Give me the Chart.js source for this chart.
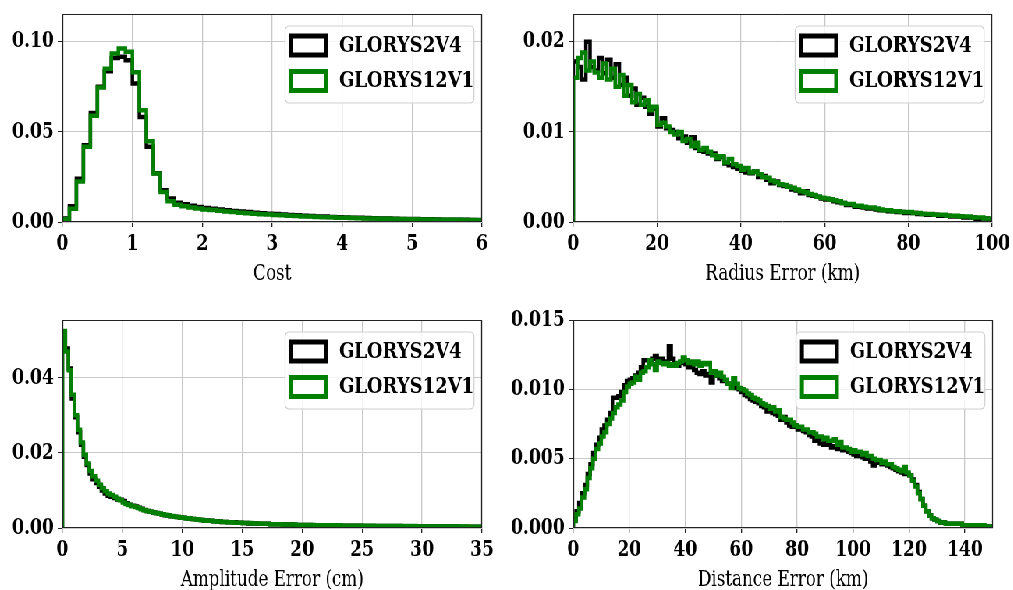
<!DOCTYPE html>
<html>
<head>
<meta charset="utf-8">
<script src="https://cdn.jsdelivr.net/npm/chart.js@4.4.0/dist/chart.umd.min.js"></script>
<style>
  html, body { margin: 0; padding: 0; background: #fff; overflow: hidden; }
  #fig { position: absolute; left: 0; top: 0; height: 590px; transform-origin: 0 0; }
  #fig canvas { position: absolute; }
</style>
</head>
<body>
<div id="fig"></div>
<script>
/* ---- data ---- */
const seriesNames = ['GLORYS2V4', 'GLORYS12V1'];

// Cost: 60 bins of 0.1 starting at 0
const costG2 = [
  0.0020, 0.0087, 0.0240, 0.0426, 0.0605, 0.0750, 0.0837, 0.0910, 0.0917, 0.0898,
  0.0769, 0.0583, 0.0417, 0.0270, 0.0176, 0.0130, 0.0107, 0.0098, 0.0090, 0.0083,
  0.0077, 0.0073, 0.0069, 0.0065, 0.0061, 0.0058, 0.0055, 0.0052, 0.0049, 0.0046,
  0.0044, 0.0041, 0.0039, 0.0037, 0.0035, 0.0033, 0.0031, 0.0030, 0.0028, 0.0027,
  0.0025, 0.0024, 0.0023, 0.0022, 0.0021, 0.0020, 0.0019, 0.0018, 0.0017, 0.0016,
  0.0016, 0.0015, 0.0015, 0.0014, 0.0013, 0.0013, 0.0012, 0.0012, 0.0011, 0.0011
];
const costG12 = [
  0.0015, 0.0074, 0.0225, 0.0417, 0.0590, 0.0746, 0.0850, 0.0935, 0.0963, 0.0944,
  0.0831, 0.0620, 0.0448, 0.0269, 0.0167, 0.0115, 0.0096, 0.0088, 0.0081, 0.0075,
  0.0070, 0.0066, 0.0062, 0.0058, 0.0055, 0.0052, 0.0049, 0.0046, 0.0043, 0.0041,
  0.0039, 0.0037, 0.0035, 0.0033, 0.0031, 0.0030, 0.0028, 0.0027, 0.0026, 0.0024,
  0.0023, 0.0022, 0.0021, 0.0020, 0.0019, 0.0018, 0.0018, 0.0017, 0.0016, 0.0015,
  0.0015, 0.0014, 0.0014, 0.0013, 0.0013, 0.0012, 0.0012, 0.0011, 0.0011, 0.0010
];
const costXTicks = [0, 1, 2, 3, 4, 5, 6];
const costYTicks = [0, 0.05, 0.10];
const costYLabels = ['0.00', '0.05', '0.10'];

// Radius error: 100 bins of 1 km
const radiusG2 = [
  0.0178, 0.0172, 0.0158, 0.0200, 0.0172, 0.0168, 0.0182, 0.0165, 0.0180, 0.0160,
  0.0175, 0.0152, 0.0160, 0.0140, 0.0148, 0.0130, 0.0138, 0.0128, 0.0120, 0.0126,
  0.0106, 0.0115, 0.0104, 0.0102, 0.0100, 0.0093, 0.0095, 0.0088, 0.0094, 0.0082,
  0.0079, 0.0078, 0.0076, 0.0076, 0.0070, 0.0072, 0.0065, 0.0063, 0.0061, 0.0059,
  0.0057, 0.0055, 0.0054, 0.0056, 0.0050, 0.0051, 0.0047, 0.0043, 0.0045, 0.0041,
  0.0040, 0.0039, 0.0036, 0.0035, 0.0032, 0.0034, 0.0030, 0.0029, 0.0028, 0.0026,
  0.0025, 0.0025, 0.0023, 0.0022, 0.0021, 0.0019, 0.0019, 0.0017, 0.0017, 0.0016,
  0.0015, 0.0015, 0.0014, 0.0013, 0.0013, 0.0012, 0.0012, 0.0011, 0.0011, 0.0010,
  0.0010, 0.0010, 0.0009, 0.0009, 0.0008, 0.0008, 0.0008, 0.0007, 0.0007, 0.0007,
  0.0006, 0.0006, 0.0006, 0.0005, 0.0005, 0.0005, 0.0003, 0.0004, 0.0004, 0.0003
];
const radiusG12 = [
  0.0160, 0.0182, 0.0188, 0.0168, 0.0178, 0.0166, 0.0160, 0.0176, 0.0158, 0.0170,
  0.0150, 0.0163, 0.0140, 0.0152, 0.0133, 0.0142, 0.0130, 0.0135, 0.0124, 0.0128,
  0.0108, 0.0110, 0.0106, 0.0100, 0.0097, 0.0100, 0.0090, 0.0092, 0.0084, 0.0088,
  0.0080, 0.0082, 0.0078, 0.0074, 0.0071, 0.0073, 0.0066, 0.0070, 0.0064, 0.0062,
  0.0058, 0.0060, 0.0055, 0.0056, 0.0053, 0.0050, 0.0049, 0.0046, 0.0044, 0.0042,
  0.0041, 0.0039, 0.0038, 0.0036, 0.0034, 0.0033, 0.0031, 0.0030, 0.0028, 0.0027,
  0.0026, 0.0025, 0.0024, 0.0023, 0.0021, 0.0020, 0.0020, 0.0018, 0.0018, 0.0017,
  0.0016, 0.0016, 0.0015, 0.0014, 0.0013, 0.0013, 0.0012, 0.0012, 0.0011, 0.0011,
  0.0011, 0.0010, 0.0010, 0.0009, 0.0009, 0.0009, 0.0008, 0.0008, 0.0008, 0.0007,
  0.0007, 0.0007, 0.0006, 0.0006, 0.0006, 0.0005, 0.0005, 0.0005, 0.0004, 0.0004
];
const radiusXTicks = [0, 20, 40, 60, 80, 100];
const radiusYTicks = [0, 0.01, 0.02];
const radiusYLabels = ['0.00', '0.01', '0.02'];

// Amplitude error: 140 bins of 0.25 cm
const ampG2 = [
  0.0520, 0.0478, 0.0425, 0.0345, 0.0295, 0.0255, 0.0222, 0.0190, 0.0168, 0.0145,
  0.0130, 0.0120, 0.0110, 0.0100, 0.0092, 0.0086, 0.0083, 0.0080, 0.0076, 0.0075,
  0.0072, 0.0066, 0.0062, 0.0059, 0.0057, 0.0054, 0.0051, 0.0048, 0.0045, 0.0043,
  0.0041, 0.0040, 0.0038, 0.0036, 0.0034, 0.0033, 0.0031, 0.0030, 0.0029, 0.0028,
  0.0027, 0.0026, 0.0025, 0.0024, 0.0023, 0.0022, 0.0021, 0.0020, 0.0020, 0.0019,
  0.0018, 0.0018, 0.0017, 0.0016, 0.0016, 0.0015, 0.0015, 0.0015, 0.0014, 0.0014,
  0.0013, 0.0013, 0.0012, 0.0012, 0.0012, 0.0011, 0.0011, 0.0011, 0.0011, 0.0010,
  0.0010, 0.0010, 0.0010, 0.0010, 0.0009, 0.0009, 0.0009, 0.0008, 0.0008, 0.0008,
  0.0008, 0.0008, 0.0008, 0.0007, 0.0007, 0.0007, 0.0007, 0.0007, 0.0007, 0.0006,
  0.0006, 0.0006, 0.0006, 0.0006, 0.0006, 0.0006, 0.0006, 0.0006, 0.0005, 0.0006,
  0.0005, 0.0005, 0.0005, 0.0005, 0.0005, 0.0005, 0.0005, 0.0005, 0.0005, 0.0005,
  0.0005, 0.0004, 0.0005, 0.0004, 0.0004, 0.0004, 0.0004, 0.0004, 0.0004, 0.0004,
  0.0004, 0.0004, 0.0004, 0.0004, 0.0004, 0.0004, 0.0004, 0.0004, 0.0004, 0.0004,
  0.0003, 0.0004, 0.0003, 0.0003, 0.0003, 0.0003, 0.0003, 0.0003, 0.0003, 0.0003
];
const ampG12 = [
  0.0525, 0.0470, 0.0420, 0.0355, 0.0300, 0.0262, 0.0228, 0.0195, 0.0172, 0.0152,
  0.0138, 0.0126, 0.0115, 0.0106, 0.0098, 0.0092, 0.0088, 0.0083, 0.0078, 0.0074,
  0.0068, 0.0064, 0.0061, 0.0058, 0.0056, 0.0053, 0.0050, 0.0047, 0.0045, 0.0043,
  0.0041, 0.0039, 0.0038, 0.0036, 0.0035, 0.0033, 0.0032, 0.0030, 0.0029, 0.0028,
  0.0027, 0.0026, 0.0025, 0.0024, 0.0023, 0.0022, 0.0021, 0.0020, 0.0019, 0.0019,
  0.0018, 0.0017, 0.0017, 0.0016, 0.0016, 0.0015, 0.0015, 0.0014, 0.0014, 0.0014,
  0.0013, 0.0013, 0.0013, 0.0012, 0.0012, 0.0012, 0.0011, 0.0011, 0.0011, 0.0010,
  0.0010, 0.0010, 0.0010, 0.0009, 0.0009, 0.0009, 0.0009, 0.0009, 0.0008, 0.0008,
  0.0008, 0.0008, 0.0008, 0.0008, 0.0007, 0.0007, 0.0007, 0.0007, 0.0007, 0.0007,
  0.0007, 0.0006, 0.0007, 0.0006, 0.0006, 0.0006, 0.0006, 0.0006, 0.0006, 0.0006,
  0.0006, 0.0006, 0.0005, 0.0006, 0.0005, 0.0005, 0.0005, 0.0005, 0.0005, 0.0005,
  0.0005, 0.0005, 0.0005, 0.0005, 0.0005, 0.0005, 0.0004, 0.0005, 0.0004, 0.0004,
  0.0004, 0.0004, 0.0004, 0.0004, 0.0004, 0.0004, 0.0004, 0.0004, 0.0004, 0.0004,
  0.0004, 0.0004, 0.0004, 0.0003, 0.0004, 0.0003, 0.0003, 0.0003, 0.0003, 0.0003
];
const ampXTicks = [0, 5, 10, 15, 20, 25, 30, 35];
const ampYTicks = [0, 0.02, 0.04];
const ampYLabels = ['0.00', '0.02', '0.04'];

// Distance error: 150 bins of 1 km
const distG2 = [
  0.0006, 0.0012, 0.0018, 0.0025, 0.0031, 0.0039, 0.0046, 0.0054, 0.0060, 0.0065,
  0.0071, 0.0074, 0.0078, 0.0083, 0.0094, 0.0094, 0.0095, 0.0098, 0.0103, 0.0106,
  0.0107, 0.0108, 0.0110, 0.0112, 0.0116, 0.0121, 0.0121, 0.0119, 0.0122, 0.0124,
  0.0121, 0.0122, 0.0119, 0.0120, 0.0131, 0.0122, 0.0118, 0.0117, 0.0119, 0.0120,
  0.0118, 0.0116, 0.0117, 0.0114, 0.0112, 0.0111, 0.0113, 0.0110, 0.0111, 0.0105,
  0.0112, 0.0110, 0.0108, 0.0106, 0.0106, 0.0104, 0.0104, 0.0102, 0.0101, 0.0100,
  0.0098, 0.0096, 0.0095, 0.0093, 0.0092, 0.0091, 0.0090, 0.0088, 0.0087, 0.0084,
  0.0085, 0.0083, 0.0082, 0.0081, 0.0078, 0.0080, 0.0076, 0.0074, 0.0073, 0.0074,
  0.0071, 0.0071, 0.0070, 0.0069, 0.0067, 0.0066, 0.0063, 0.0064, 0.0061, 0.0060,
  0.0062, 0.0060, 0.0058, 0.0059, 0.0057, 0.0058, 0.0056, 0.0056, 0.0055, 0.0054,
  0.0053, 0.0052, 0.0053, 0.0051, 0.0050, 0.0051, 0.0048, 0.0045, 0.0048, 0.0047,
  0.0046, 0.0046, 0.0045, 0.0044, 0.0043, 0.0042, 0.0041, 0.0040, 0.0039, 0.0039,
  0.0038, 0.0035, 0.0031, 0.0026, 0.0021, 0.0016, 0.0012, 0.0009, 0.0007, 0.0006,
  0.0005, 0.0004, 0.0004, 0.0003, 0.0003, 0.0003, 0.0003, 0.0003, 0.0003, 0.0002,
  0.0002, 0.0002, 0.0002, 0.0002, 0.0002, 0.0002, 0.0002, 0.0001, 0.0001, 0.0001
];
const distG12 = [
  0.0005, 0.0010, 0.0014, 0.0022, 0.0028, 0.0036, 0.0043, 0.0050, 0.0057, 0.0061,
  0.0066, 0.0069, 0.0075, 0.0079, 0.0083, 0.0087, 0.0089, 0.0092, 0.0098, 0.0102,
  0.0104, 0.0105, 0.0109, 0.0107, 0.0112, 0.0113, 0.0116, 0.0121, 0.0118, 0.0114,
  0.0120, 0.0119, 0.0118, 0.0119, 0.0117, 0.0118, 0.0117, 0.0119, 0.0120, 0.0123,
  0.0121, 0.0119, 0.0120, 0.0118, 0.0120, 0.0117, 0.0119, 0.0118, 0.0119, 0.0112,
  0.0113, 0.0110, 0.0112, 0.0109, 0.0107, 0.0104, 0.0101, 0.0108, 0.0104, 0.0101,
  0.0100, 0.0099, 0.0097, 0.0096, 0.0094, 0.0093, 0.0092, 0.0090, 0.0089, 0.0088,
  0.0086, 0.0087, 0.0084, 0.0085, 0.0080, 0.0079, 0.0078, 0.0078, 0.0076, 0.0074,
  0.0073, 0.0073, 0.0071, 0.0071, 0.0069, 0.0069, 0.0068, 0.0066, 0.0066, 0.0064,
  0.0065, 0.0063, 0.0063, 0.0064, 0.0060, 0.0062, 0.0058, 0.0058, 0.0057, 0.0055,
  0.0056, 0.0055, 0.0055, 0.0053, 0.0054, 0.0052, 0.0052, 0.0050, 0.0049, 0.0049,
  0.0047, 0.0048, 0.0046, 0.0046, 0.0044, 0.0043, 0.0042, 0.0041, 0.0044, 0.0040,
  0.0038, 0.0034, 0.0030, 0.0025, 0.0021, 0.0016, 0.0012, 0.0009, 0.0007, 0.0006,
  0.0005, 0.0004, 0.0004, 0.0003, 0.0003, 0.0003, 0.0003, 0.0003, 0.0003, 0.0002,
  0.0002, 0.0002, 0.0002, 0.0002, 0.0002, 0.0002, 0.0002, 0.0001, 0.0001, 0.0001
];
const distXTicks = [0, 20, 40, 60, 80, 100, 120, 140];
const distYTicks = [0, 0.005, 0.010, 0.015];
const distYLabels = ['0.000', '0.005', '0.010', '0.015'];

/* ---- layout ---- */
// the reference figure is squeezed horizontally; draw wide, then scaleX
const S = 0.78;
const fig = document.getElementById('fig');
fig.style.width = (1013 / S) + 'px';
fig.style.transform = 'scaleX(' + S + ')';

const FONT = "'DejaVu Serif', serif";
const AX = 80, PR = 40, PT = 20, HX = 69;

const panels = [
  { title: 'Cost', x0: 0, bw: 0.1, a: costG2, b: costG12, xMax: 6, xTicks: costXTicks,
    yMax: 0.1154, yTicks: costYTicks, yLabels: costYLabels, box: [62, 14, 481.7, 221.7] },
  { title: 'Radius Error (km)', x0: 0, bw: 1, a: radiusG2, b: radiusG12, xMax: 100, xTicks: radiusXTicks,
    yMax: 0.02308, yTicks: radiusYTicks, yLabels: radiusYLabels, box: [573.3, 14, 992.3, 221.7] },
  { title: 'Amplitude Error (cm)', x0: 0, bw: 0.25, a: ampG2, b: ampG12, xMax: 35, xTicks: ampXTicks,
    yMax: 0.0554, yTicks: ampYTicks, yLabels: ampYLabels, box: [62, 320, 481.7, 527.7] },
  { title: 'Distance Error (km)', x0: 0, bw: 1, a: distG2, b: distG12, xMax: 150, xTicks: distXTicks,
    yMax: 0.015, yTicks: distYTicks, yLabels: distYLabels, box: [573.3, 320, 992.7, 527.7] }
];

// step-histogram outline: rise from zero at the first edge, flat across each bin
function histPoints(x0, bw, vals) {
  const pts = [{ x: x0, y: 0 }];
  vals.forEach((v, i) => pts.push({ x: x0 + i * bw, y: v }));
  pts.push({ x: x0 + vals.length * bw, y: vals[vals.length - 1] });
  return pts;
}

// axes frame + matplotlib-like legend box
const frameLegend = {
  id: 'frameLegend',
  afterDraw(chart) {
    const { ctx, chartArea: a } = chart;
    ctx.save();
    ctx.strokeStyle = '#222';
    ctx.lineWidth = 1;
    ctx.beginPath();
    ctx.moveTo(a.left, a.top + 0.5); ctx.lineTo(a.right, a.top + 0.5);
    ctx.moveTo(a.left, a.bottom - 0.5); ctx.lineTo(a.right, a.bottom - 0.5);
    ctx.stroke();
    ctx.lineWidth = 1.3;
    ctx.beginPath();
    ctx.moveTo(a.left + 0.5, a.top); ctx.lineTo(a.left + 0.5, a.bottom);
    ctx.moveTo(a.right - 0.5, a.top); ctx.lineTo(a.right - 0.5, a.bottom);
    ctx.stroke();

    // legend
    const w = 189 / S, h = 77;
    const bx = a.right - 8 / S - w, by = a.top + 12;
    ctx.beginPath();
    ctx.roundRect(bx, by, w, h, 5);
    ctx.fillStyle = 'rgba(255,255,255,0.8)';
    ctx.fill();
    ctx.strokeStyle = '#d0d0d0';
    ctx.lineWidth = 1.2;
    ctx.stroke();
    ctx.font = 'bold 23px ' + FONT;
    ctx.textBaseline = 'middle';
    ctx.textAlign = 'left';
    chart.data.datasets.forEach((ds, i) => {
      const hy = by + 10 + i * 35.5;
      ctx.lineWidth = 5;
      ctx.strokeStyle = ds.borderColor;
      ctx.fillStyle = '#fff';
      ctx.fillRect(bx + 6 / S, hy, 35 / S, 19);
      ctx.strokeRect(bx + 6 / S, hy, 35 / S, 19);
      ctx.fillStyle = '#000';
      ctx.fillText(ds.label, bx + 54 / S, hy + 10);
    });
    ctx.restore();
  }
};

function makePanel(p) {
  const [L, T, R, B] = p.box;
  const plotW = Math.round((R - L) / S), plotH = Math.round(B - T);
  const cv = document.createElement('canvas');
  cv.width = plotW + AX + PR;
  cv.height = plotH + PT + HX;
  cv.style.left = (L / S - AX) + 'px';
  cv.style.top = (T - PT) + 'px';
  cv.style.width = cv.width + 'px';
  cv.style.height = cv.height + 'px';
  fig.appendChild(cv);

  const tickFont = { family: FONT, size: 22, weight: 'bold' };
  new Chart(cv, {
    type: 'line',
    data: {
      datasets: [
        { label: seriesNames[0], data: histPoints(p.x0, p.bw, p.a), borderColor: '#000000', order: 1 },
        { label: seriesNames[1], data: histPoints(p.x0, p.bw, p.b), borderColor: '#008000', order: 0 }
      ]
    },
    options: {
      responsive: false,
      animation: false,
      devicePixelRatio: 1,
      layout: { padding: { left: 0, top: PT, right: PR, bottom: 0 } },
      elements: {
        point: { radius: 0 },
        line: { borderWidth: 4.5, stepped: 'before', fill: false, tension: 0,
                borderJoinStyle: 'miter', borderCapStyle: 'butt' }
      },
      datasets: { line: { clip: 0 } },
      plugins: { legend: { display: false }, tooltip: { enabled: false } },
      scales: {
        x: {
          type: 'linear', min: 0, max: p.xMax,
          afterBuildTicks: s => { s.ticks = p.xTicks.map(v => ({ value: v })); },
          afterFit: s => { s.height = HX; },
          ticks: { color: '#000', font: tickFont, padding: 4, maxRotation: 0, autoSkip: false,
                   callback: v => String(v) },
          grid: { color: '#c8c8c8', lineWidth: 1.3, tickLength: 5, tickColor: '#222', tickWidth: 1.3 },
          border: { display: false },
          title: { display: true, text: p.title, color: '#000',
                   font: { family: FONT, size: 21.5 }, padding: { top: 0, bottom: 4 } }
        },
        y: {
          type: 'linear', min: 0, max: p.yMax,
          afterBuildTicks: s => { s.ticks = p.yTicks.map(v => ({ value: v })); },
          afterFit: s => { s.width = AX; },
          ticks: { color: '#000', font: tickFont, padding: 5, callback: (v, i) => p.yLabels[i] },
          grid: { color: '#c8c8c8', lineWidth: 1, tickLength: 6, tickColor: '#222', tickWidth: 1 },
          border: { display: false }
        }
      }
    },
    plugins: [frameLegend]
  });
}

panels.forEach(makePanel);
</script>
</body>
</html>
